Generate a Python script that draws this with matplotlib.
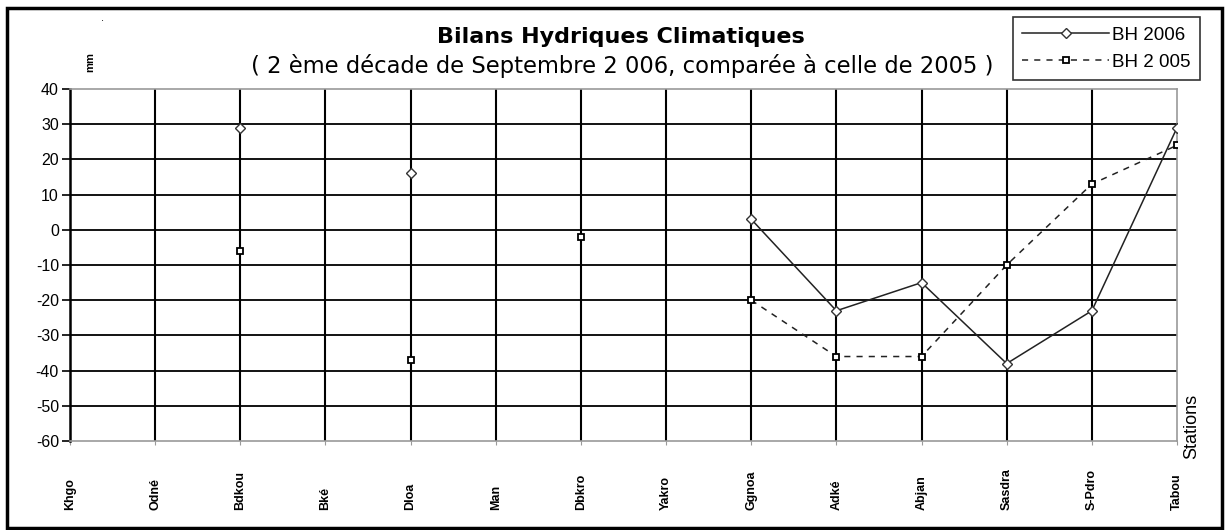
import numpy as np
import matplotlib
matplotlib.use("Agg")
import matplotlib.pyplot as plt
from matplotlib.patches import Rectangle
import matplotlib.transforms as mtransforms

plt.rcParams['font.family'] = ['Liberation Sans', 'DejaVu Sans']

stations = ["Khgo", "Odné", "Bdkou", "Bké", "Dloa", "Man", "Dbkro",
            "Yakro", "Ggnoa", "Adké", "Abjan", "Sasdra", "S-Pdro", "Tabou"]
bh_2006 = [np.nan, np.nan, 29, np.nan, 16, np.nan, np.nan,
           np.nan, 3, -23, -15, -38, -23, 29]
bh_2005 = [np.nan, np.nan, -6, np.nan, -37, np.nan, -2,
           np.nan, -20, -36, -36, -10, 13, 24]
y_ticks = list(range(-60, 41, 10))

fig = plt.figure(figsize=(12.3, 5.3), dpi=100)
ax = fig.add_axes([70 / 1230, 1 - 441 / 530, (1177 - 70) / 1230, (441 - 89) / 530])

x = np.arange(len(stations))
ax.plot(x, bh_2006, color='#222222', lw=1.1, ls='-', marker='D',
        ms=5, mfc='white', mec='#333333', mew=1, label='BH 2006', zorder=3)
ax.plot(x, bh_2005, color='#222222', lw=1.1, ls=(0, (4, 4)), marker='s',
        ms=5, mfc='white', mec='black', mew=1.3, label='BH 2 005', zorder=3)

ax.set_xlim(0, len(stations) - 1)
ax.set_ylim(-60, 40)
ax.set_yticks(y_ticks)
ax.set_yticklabels([str(v) for v in y_ticks], fontsize=11.5)
ax.tick_params(axis='y', direction='out', length=6, width=1.2, color='black', pad=2)
ax.set_xticks(x)
ax.set_xticklabels([])
ax.tick_params(axis='x', direction='out', length=3, color='#999999')

# grid
for v in y_ticks[1:-1]:
    ax.axhline(v, color='black', lw=1.3, zorder=1)
for xi in x[1:-1]:
    ax.axvline(xi, color='black', lw=1.5, zorder=1)

for s in ['top', 'right', 'bottom']:
    ax.spines[s].set_color('#999999')
    ax.spines[s].set_linewidth(1.2)
ax.spines['left'].set_color('black')
ax.spines['left'].set_linewidth(1.8)

# station labels, bottom-aligned
trans = mtransforms.blended_transform_factory(ax.transData, fig.transFigure)
for xi, name in zip(x, stations):
    ax.text(xi, 1 - 510 / 530, name, rotation=90, ha='center', va='bottom',
            fontsize=9, fontweight='bold', transform=trans, clip_on=False)

fig.text(1192 / 1230, 1 - 426 / 530, "Stations", rotation=90, ha='center',
         va='center', fontsize=13)
fig.text(90 / 1230, 1 - 62 / 530, "mm", rotation=90, ha='center', va='center',
         fontsize=8, fontweight='bold')
fig.text(102 / 1230, 1 - 18 / 530, ".", ha='center', va='center', fontsize=8)

fig.text(621 / 1230, 1 - 37 / 530, "Bilans Hydriques Climatiques", ha='center',
         va='center', fontsize=16, fontweight='bold', family='DejaVu Sans')
fig.text(622 / 1230, 1 - 66 / 530,
         "( 2 ème décade de Septembre 2 006, comparée à celle de 2005 )",
         ha='center', va='center', fontsize=16.3, family='DejaVu Sans')

leg = ax.legend(loc='upper left', bbox_to_anchor=(1013 / 1230, 1 - 17 / 530),
                bbox_transform=fig.transFigure, fancybox=False, frameon=True,
                edgecolor='black', fontsize=13.5, handlelength=4.6,
                handletextpad=0.2, borderpad=0.5, labelspacing=0.55,
                borderaxespad=0)
leg.get_frame().set_linewidth(1.2)

fig.patches.append(Rectangle((7 / 1230, 2 / 530), 1215 / 1230, 520 / 530,
                             transform=fig.transFigure, fill=False,
                             edgecolor='black', lw=2.5))

fig.savefig("out.png", dpi=100, facecolor='white')
